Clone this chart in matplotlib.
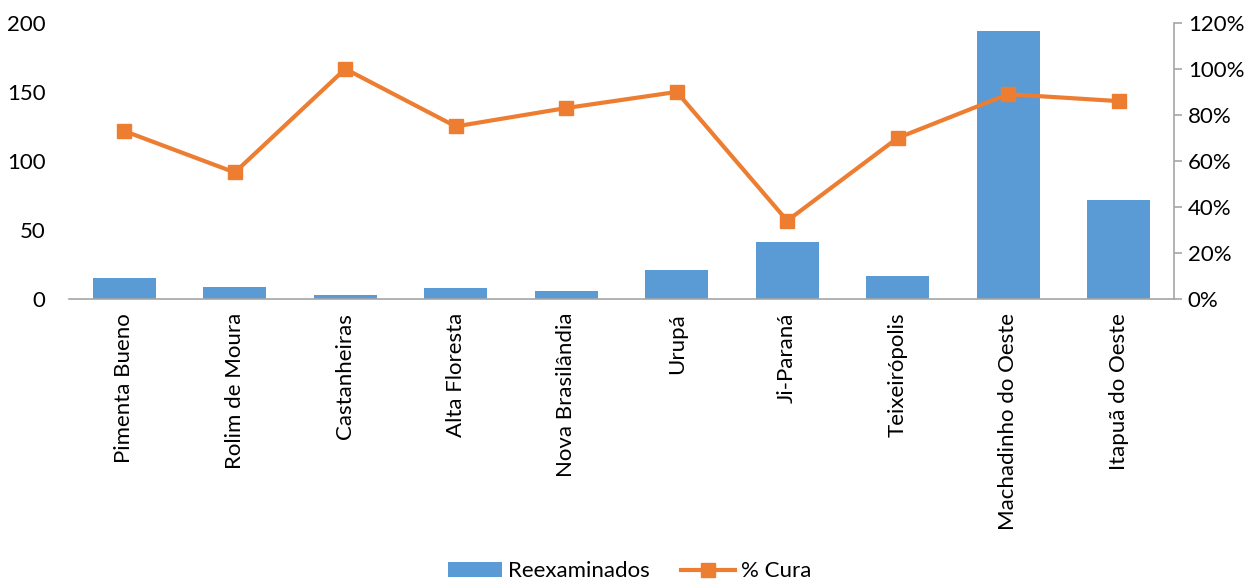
import matplotlib.pyplot as plt
import numpy as np

plt.rcParams['font.family'] = ['Lato', 'DejaVu Sans']

municipios = ["Pimenta Bueno", "Rolim de Moura", "Castanheiras", "Alta Floresta",
              "Nova Brasilândia", "Urupá", "Ji-Paraná", "Teixeirópolis",
              "Machadinho do Oeste", "Itapuã do Oeste"]
reexaminados = [15, 9, 3, 8, 6, 21, 41, 17, 194, 72]
cura = [73, 55, 100, 75, 83, 90, 34, 70, 89, 86]

azul = "#5B9BD5"
laranja = "#ED7D31"
cinza = "#A6A6A6"
fs = 16

fig = plt.figure(figsize=(12.6, 5.81), dpi=100)
ax = fig.add_axes([0.0548, 0.4854, 0.8769, 0.4752])
x = np.arange(len(municipios))
barras = ax.bar(x, reexaminados, width=0.57, color=azul, label="Reexaminados", zorder=2)
ax.set_xlim(-0.5, len(municipios) - 0.5)
ax.set_ylim(0, 200)
ax.set_yticks([0, 50, 100, 150, 200])
ax.set_xticks(x)
ax.set_xticklabels(municipios, rotation=90, fontsize=fs)
ax.tick_params(axis='y', length=0, labelsize=fs, pad=17)
ax.tick_params(axis='x', length=0, pad=10)
for s in ['top', 'left', 'right']:
    ax.spines[s].set_visible(False)
ax.spines['bottom'].set_color(cinza)
ax.spines['bottom'].set_linewidth(1.2)

ax2 = ax.twinx()
linha, = ax2.plot(x, cura, color=laranja, lw=3, marker='s', markersize=10,
                  label="% Cura", zorder=3)
ax2.set_ylim(0, 120)
ax2.set_yticks(range(0, 121, 20))
ax2.set_yticklabels([f"{v}%" for v in range(0, 121, 20)])
ax2.tick_params(axis='y', labelsize=fs, length=6, color=cinza, width=1.2, pad=4)
for s in ['top', 'left', 'bottom']:
    ax2.spines[s].set_visible(False)
ax2.spines['right'].set_color(cinza)
ax2.spines['right'].set_linewidth(1.2)

fig.legend([barras, linha], ["Reexaminados", "% Cura"], loc='lower center',
           bbox_to_anchor=(0.5, -0.035), ncol=2, frameon=False, fontsize=fs,
           handlelength=2.4, columnspacing=1.4, handletextpad=0.3)

fig.savefig("out.png", dpi=100)
